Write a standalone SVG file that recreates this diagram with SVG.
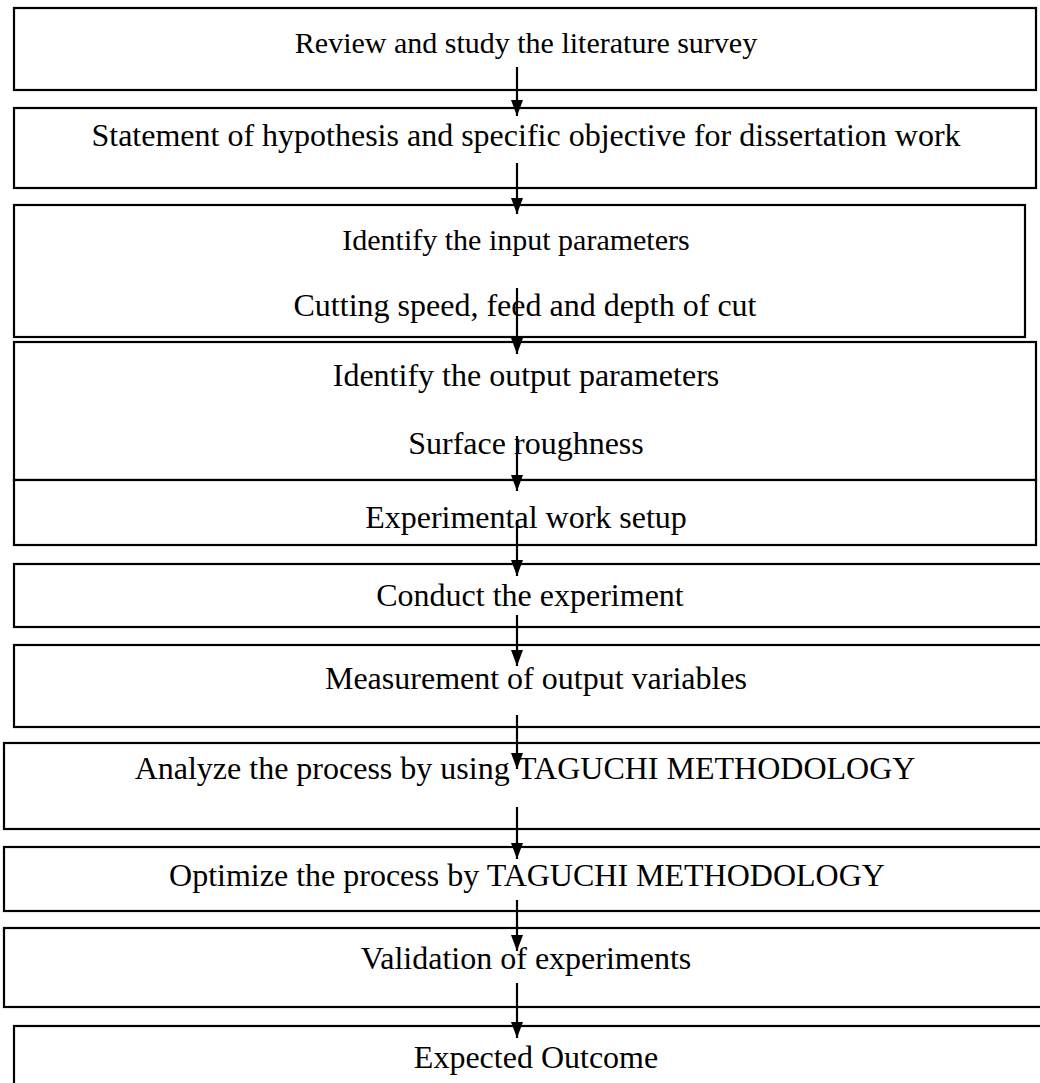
<svg xmlns="http://www.w3.org/2000/svg" width="1040" height="1083" viewBox="0 0 1040 1083">
<style>
.box{fill:#fff;stroke:#000;stroke-width:2.2}
.t{font-family:"Liberation Serif","Times New Roman",serif;font-size:32px;fill:#000;text-anchor:middle}
.s{font-size:30px}
.c{stroke:#000;stroke-width:2.2;fill:none}
</style>
<defs>
<marker id="ah" markerWidth="16" markerHeight="12" refX="16" refY="6" orient="auto" markerUnits="userSpaceOnUse" viewBox="0 0 16 12">
<path d="M0,0 L16,6 L0,12 Z" fill="#000"/>
</marker>
</defs>
<rect width="1040" height="1083" fill="#fff"/>
<g id="n1"><rect class="box" x="14" y="8" width="1022" height="82"/><text class="t s" x="526" y="53">Review and study the literature survey</text></g>
<g id="n2"><rect class="box" x="14" y="108" width="1022" height="80"/><text class="t" x="526" y="146">Statement of hypothesis and specific objective for dissertation work</text></g>
<g id="n3"><rect class="box" x="14" y="205" width="1011" height="132"/><text class="t s" x="516" y="250">Identify the input parameters</text><text class="t" x="525" y="316">Cutting speed, feed and depth of cut</text></g>
<g id="n4"><rect class="box" x="14" y="342" width="1022" height="138"/><text class="t" x="526" y="386">Identify the output parameters</text><text class="t" x="526" y="454">Surface roughness</text></g>
<g id="n5"><rect class="box" x="14" y="480" width="1022" height="65"/><text class="t" x="526" y="528">Experimental work setup</text></g>
<g id="n6"><rect class="box" x="14" y="564" width="1040" height="63"/><text class="t" x="530" y="606">Conduct the experiment</text></g>
<g id="n7"><rect class="box" x="14" y="645" width="1040" height="82"/><text class="t" x="536" y="689">Measurement of output variables</text></g>
<g id="n8"><rect class="box" x="4" y="743" width="1050" height="86"/><text class="t" x="525" y="779">Analyze the process by using TAGUCHI METHODOLOGY</text></g>
<g id="n9"><rect class="box" x="4" y="847" width="1050" height="64"/><text class="t" x="527" y="886">Optimize the process by TAGUCHI METHODOLOGY</text></g>
<g id="n10"><rect class="box" x="4" y="928" width="1050" height="79"/><text class="t" x="526" y="969">Validation of experiments</text></g>
<g id="n11"><rect class="box" x="14" y="1026" width="1040" height="70"/><text class="t" x="536" y="1068">Expected Outcome</text></g>
<g id="connectors">
<line class="c" x1="517" y1="67" x2="517" y2="116" marker-end="url(#ah)"/>
<line class="c" x1="517" y1="163" x2="517" y2="214" marker-end="url(#ah)"/>
<line class="c" x1="517" y1="288" x2="517" y2="354" marker-end="url(#ah)"/>
<line class="c" x1="517" y1="436" x2="517" y2="491" marker-end="url(#ah)"/>
<line class="c" x1="517" y1="520" x2="517" y2="576" marker-end="url(#ah)"/>
<line class="c" x1="517" y1="615" x2="517" y2="666" marker-end="url(#ah)"/>
<line class="c" x1="517" y1="715" x2="517" y2="769" marker-end="url(#ah)"/>
<line class="c" x1="517" y1="807" x2="517" y2="859" marker-end="url(#ah)"/>
<line class="c" x1="517" y1="900" x2="517" y2="951" marker-end="url(#ah)"/>
<line class="c" x1="517" y1="983" x2="517" y2="1038" marker-end="url(#ah)"/>
</g>
</svg>
